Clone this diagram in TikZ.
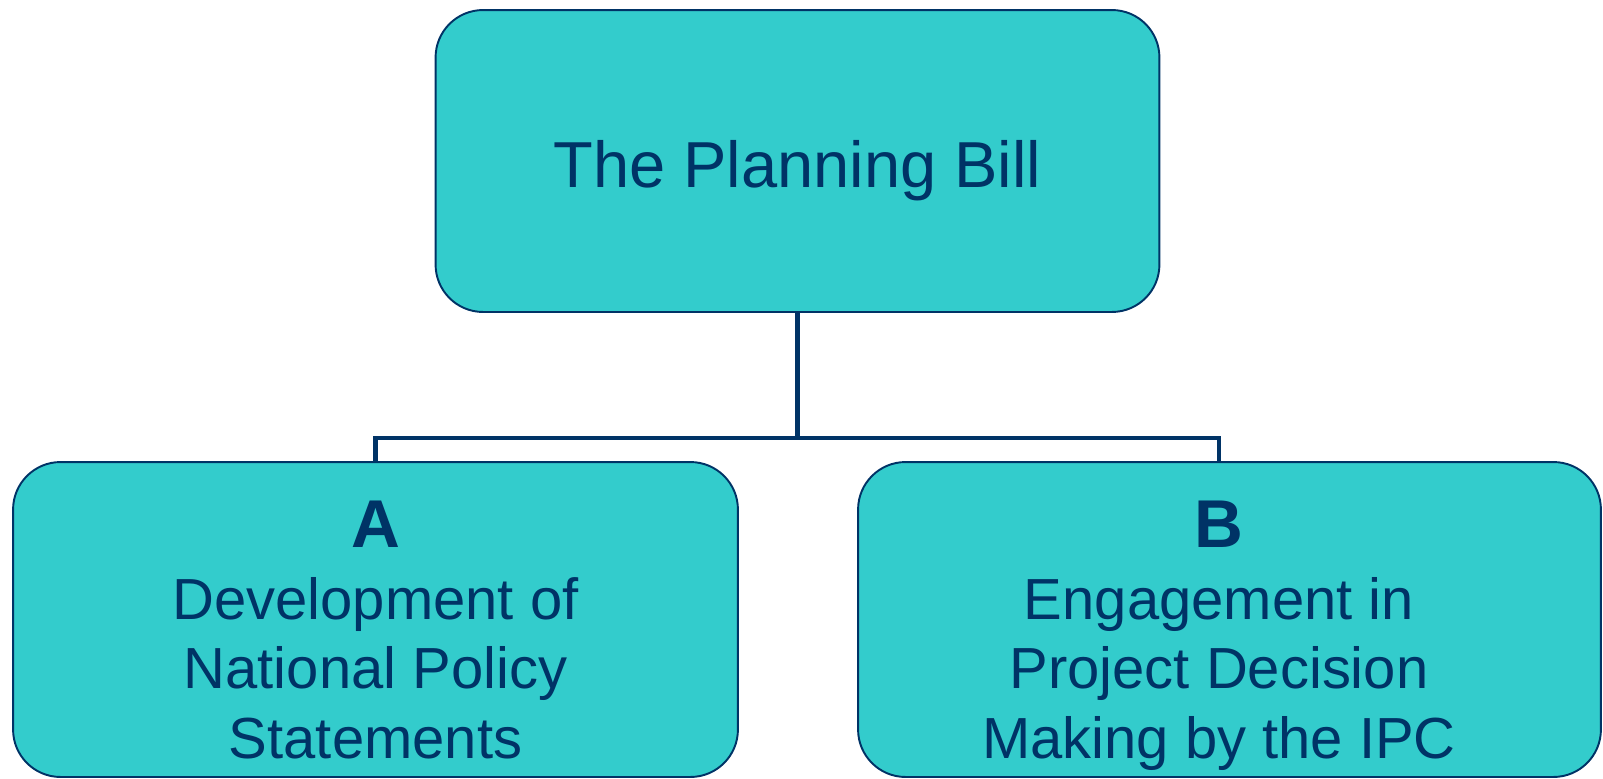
\documentclass[tikz,border=0pt]{standalone}
\usepackage{xcolor}
\usepackage{fontspec}
\setmainfont{Liberation Sans}
\usepackage{tikz}
\usetikzlibrary{positioning}

\definecolor{tealfill}{HTML}{33CCCC}
\definecolor{navy}{HTML}{003366}

\begin{document}
\begin{tikzpicture}[x=0.02cm, y=-0.02cm,
  box/.style={rectangle, draw=navy, line width=1.1pt, fill=tealfill, rounded corners=0.95cm, text=navy, align=center, inner sep=0pt},
  boxtext/.style={text=navy, align=center, anchor=base, font=\fontsize{33pt}{39.5pt}\selectfont},
  link/.style={draw=navy, line width=2.6pt}]

\useasboundingbox (0,0) rectangle (1603,778);

% Cajas
\node[box, minimum width=14.48cm, minimum height=6.04cm, text height=1.08cm, text depth=0pt,
      font=\fontsize{37pt}{44pt}\selectfont] (bill) at (797.5,161) {The Planning Bill};
\node[box, minimum width=14.5cm, minimum height=6.3cm] (nps) at (375.5,619.5) {};
\node[box, minimum width=14.86cm, minimum height=6.3cm] (ipc) at (1229.5,619.5) {};

% Textos
\node[boxtext] (npstext) at (375.5,758) {{\fontsize{38.5pt}{44pt}\selectfont\bfseries A}\\[1.5pt] Development of\\ National Policy\\ Statements};
\node[boxtext] (ipctext) at (1219,758) {{\fontsize{38.5pt}{44pt}\selectfont\bfseries B}\\[1.5pt] Engagement in\\ Project Decision\\ Making by the IPC};

% Conectores
\coordinate (fork) at (bill.south |- 0,438);
\draw[link] (bill.south) -- (fork);
\draw[link] (nps.north) |- (fork) -| (ipctext.north |- ipc.north);

\end{tikzpicture}
\end{document}
